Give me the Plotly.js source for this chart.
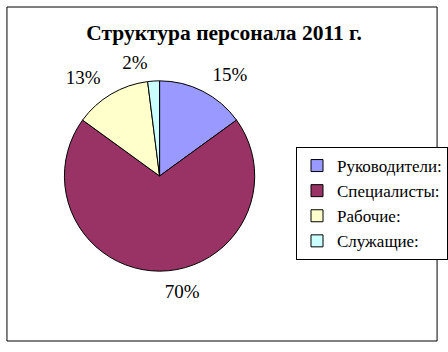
<!DOCTYPE html>
<html><head><meta charset="utf-8">
<script src="https://cdn.plot.ly/plotly-3.0.1.min.js"></script>
<style>body{margin:0;background:#fff}#c{width:448px;height:352px}</style>
</head><body><div id="c"></div>
<script>
var categories = ["Руководители:", "Специалисты:", "Рабочие:", "Служащие:"];
var values = [15, 70, 13, 2];
var colors = ["#9999FF", "#993366", "#FFFFCC", "#CCFFFF"];
var titleText = "Структура персонала 2011 г.";

var W = 448, H = 352;
var cx = 161, cy = 176, r = 96;
function dom(rad) {
  return {x: [(cx - rad) / W, (cx + rad) / W], y: [1 - (cy + rad) / H, 1 - (cy - rad) / H]};
}
var clear = ["rgba(0,0,0,0)", "rgba(0,0,0,0)", "rgba(0,0,0,0)", "rgba(0,0,0,0)"];
var pct = "%{percent:.0%}";
var pie = {
  type: "pie", labels: categories, values: values, sort: false,
  direction: "clockwise", rotation: 0,
  marker: {colors: colors, line: {color: "#000", width: 1}},
  textinfo: "none", hoverinfo: "none", domain: dom(r)
};
function labelPie(templates, rad) {
  return {
    type: "pie", labels: categories, values: values, sort: false,
    direction: "clockwise", rotation: 0, showlegend: false,
    marker: {colors: clear, line: {width: 0}},
    texttemplate: templates, textposition: "outside",
    outsidetextfont: {family: "Liberation Serif", size: 19, color: "#000"},
    hoverinfo: "none", domain: dom(rad)
  };
}
var labelsMain = labelPie([pct, pct, pct, ""], 106);
var labelsSmall = labelPie(["", "", "", pct], 104);
var layout = {
  width: W, height: H,
  margin: {l: 0, r: 0, t: 0, b: 0},
  paper_bgcolor: "#fff",
  font: {family: "Liberation Serif", color: "#000"},
  title: {text: "<b>" + titleText + "</b>", font: {family: "Liberation Serif", size: 21.5, color: "#000"},
          x: 0.5, xanchor: "center", y: 1 - 32/H, yanchor: "middle"},
  showlegend: true,
  legend: {x: 299/W, xanchor: "left", y: 1 - 147/H, yanchor: "top",
           bordercolor: "#000", borderwidth: 1, bgcolor: "#fff",
           font: {family: "Liberation Serif", size: 17, color: "#000"},
           tracegroupgap: 0, itemwidth: 30},
  shapes: [{type: "rect", xref: "paper", yref: "paper", x0: 7/W, x1: 441/W, y0: 1 - 341/H, y1: 1 - 7/H,
            line: {color: "#000", width: 1}}]
};
Plotly.newPlot("c", [pie, labelsMain, labelsSmall], layout, {staticPlot: true});
</script></body></html>
